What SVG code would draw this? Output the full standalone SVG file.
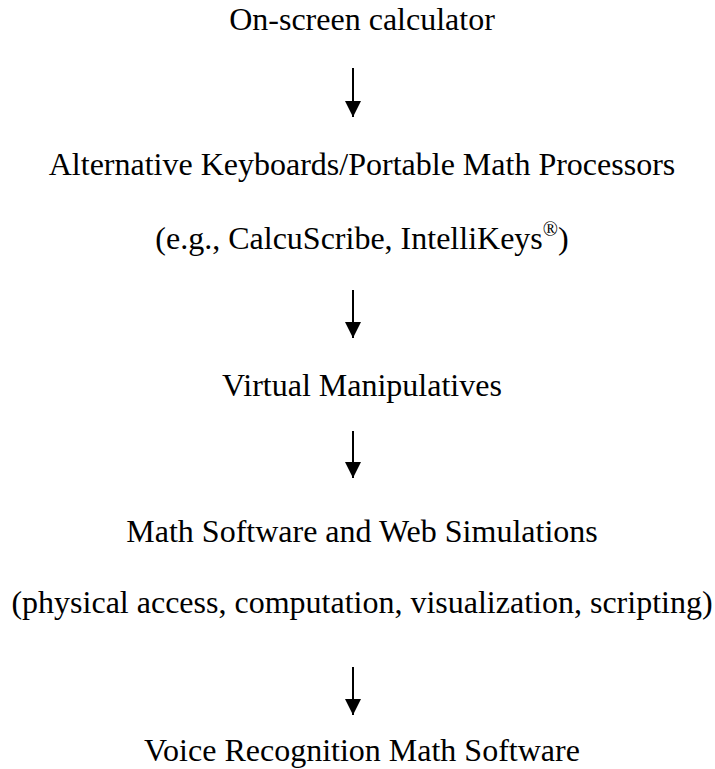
<svg xmlns="http://www.w3.org/2000/svg" width="715" height="769" viewBox="0 0 715 769">
<defs>
<marker id="ah" markerWidth="16" markerHeight="16" viewBox="0 0 16 16" refX="16" refY="8" orient="auto" markerUnits="userSpaceOnUse">
<path d="M0,0 L16,8 L0,16 Z" fill="#000"/>
</marker>
<style>
text{font-family:"Liberation Serif","Times New Roman",serif;font-size:32px;fill:#000;text-anchor:middle}
.sup{font-size:20px}
.c{stroke:#000;stroke-width:2;fill:none}
</style>
</defs>
<rect width="715" height="769" fill="#fff"/>
<g id="n1"><text x="362" y="30">On-screen calculator</text></g>
<g id="n2"><text x="362" y="175">Alternative Keyboards/Portable Math Processors</text>
<text x="362" y="249">(e.g., CalcuScribe, IntelliKeys<tspan class="sup" dy="-13">®</tspan><tspan dy="13">)</tspan></text></g>
<g id="n3"><text x="362" y="396">Virtual Manipulatives</text></g>
<g id="n4"><text x="362" y="542">Math Software and Web Simulations</text>
<text x="362" y="613">(physical access, computation, visualization, scripting)</text></g>
<g id="n5"><text x="362" y="761">Voice Recognition Math Software</text></g>
<g id="connectors">
<line class="c" x1="353" y1="68" x2="353" y2="117" marker-end="url(#ah)"/>
<line class="c" x1="353" y1="290" x2="353" y2="338" marker-end="url(#ah)"/>
<line class="c" x1="353" y1="431" x2="353" y2="478" marker-end="url(#ah)"/>
<line class="c" x1="353" y1="667" x2="353" y2="715" marker-end="url(#ah)"/>
</g>
</svg>
